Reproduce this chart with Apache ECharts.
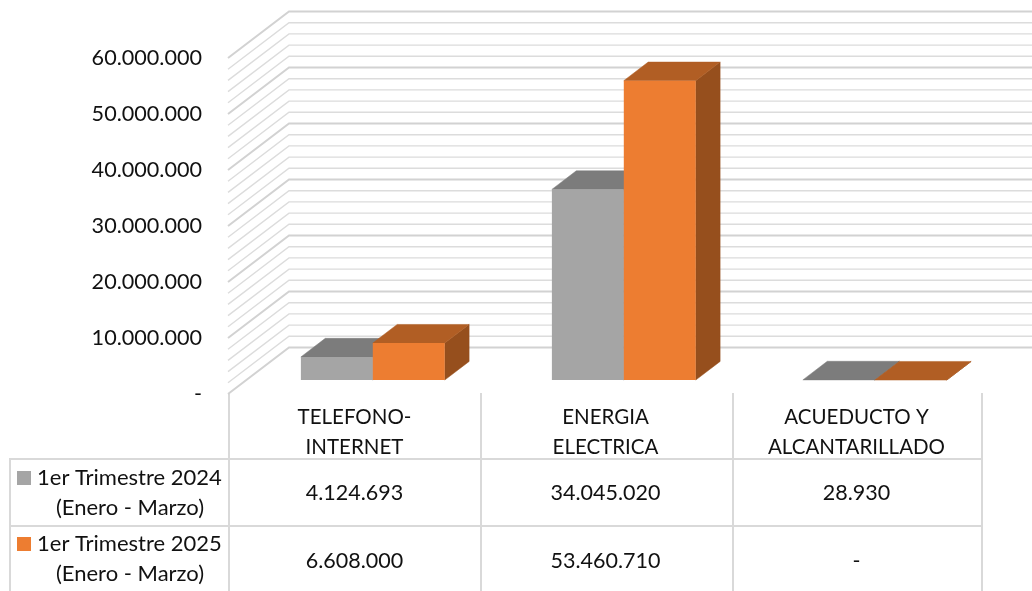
<!DOCTYPE html>
<html>
<head>
<meta charset="utf-8">
<style>
  html, body { margin: 0; padding: 0; background: #fff; }
  #chart { width: 1032px; height: 591px; }
</style>
<script src="https://cdn.jsdelivr.net/npm/echarts@6/dist/echarts.min.js"></script>
</head>
<body>
<div id="chart"></div>
<script>
const categories = ['TELEFONO-\nINTERNET', 'ENERGIA\nELECTRICA', 'ACUEDUCTO Y\nALCANTARILLADO']
const seriesNames = ['1er Trimestre 2024', '1er Trimestre 2025']
const seriesNote = '(Enero - Marzo)'
const values2024 = [4124693, 34045020, 28930]
const values2025 = [6608000, 53460710, 0]
const gridValues = [
  0, 2e6, 4e6, 6e6, 8e6, 10e6, 12e6, 14e6, 16e6, 18e6, 20e6, 22e6, 24e6, 26e6, 28e6, 30e6,
  32e6, 34e6, 36e6, 38e6, 40e6, 42e6, 44e6, 46e6, 48e6, 50e6, 52e6, 54e6, 56e6, 58e6, 60e6
]

const FONT = 'Lato'
const TEXT = '#111'
const LINE = '#d9d9d9'
// 3d look: how far the back wall sits from the front plane
const DEPTH_X = 61
const DEPTH_Y = 46.5
const BAR_OFFSET = 0.3
const BAR_DEPTH = 0.4
const GRID = { left: 229, top: 58, width: 753, height: 336 }

const fmt = v => v === 0 ? '-' : String(v).replace(/\B(?=(\d{3})+$)/g, '.')

function poly(points, fill, edge) {
  return { type: 'polygon', shape: { points }, style: { fill, stroke: edge ? fill : null, lineWidth: 0.5 } }
}

function barSeries(name, values, colors, index) {
  return {
    type: 'custom',
    name,
    z: 3 + index,
    data: values.map((v, i) => [i, v]),
    renderItem(params, api) {
      const [cx, ty] = api.coord([api.value(0), api.value(1)])
      const by = api.coord([api.value(0), 0])[1]
      const w = api.size([1, 0])[0] * 0.2865
      const ox = DEPTH_X * BAR_OFFSET
      const oy = -DEPTH_Y * BAR_OFFSET
      const x0 = cx + ox + (index === 0 ? -w : 0)
      const x1 = x0 + w
      const y0 = ty + oy
      const y1 = by + oy
      const dx = DEPTH_X * BAR_DEPTH
      const dy = -DEPTH_Y * BAR_DEPTH
      return {
        type: 'group',
        children: [
          poly([[x1, y0], [x1 + dx, y0 + dy], [x1 + dx, y1 + dy], [x1, y1]], colors.side, true),
          poly([[x0, y0], [x0 + dx, y0 + dy], [x1 + dx, y0 + dy], [x1, y0]], colors.top, true),
          poly([[x0, y0], [x1, y0], [x1, y1], [x0, y1]], colors.face, false)
        ]
      }
    }
  }
}

function rowSeries(values, y) {
  return {
    type: 'custom',
    silent: true,
    z: 6,
    data: values.map((v, i) => [i, v]),
    renderItem(params, api) {
      return {
        type: 'text',
        x: api.coord([api.value(0), 0])[0],
        y,
        style: {
          text: fmt(api.value(1)),
          font: `21.5px ${FONT}`,
          fill: TEXT,
          align: 'center',
          verticalAlign: 'middle'
        }
      }
    }
  }
}

const wallSeries = {
  type: 'custom',
  silent: true,
  z: 1,
  data: gridValues.map(v => [0, v]),
  renderItem(params, api) {
    const v = api.value(1)
    const y = api.coord([0, v])[1]
    const x = params.coordSys.x - 1
    const major = v % 10e6 === 0
    return {
      type: 'polyline',
      shape: { points: [[x, y], [x + DEPTH_X, y - DEPTH_Y], [1040, y - DEPTH_Y]] },
      style: { fill: null, stroke: major ? '#d2d2d2' : '#dcdcdc', lineWidth: major ? 2 : 1.4 }
    }
  }
}

function tableLine(x1, y1, x2, y2) {
  return {
    type: 'line',
    shape: { x1, y1, x2, y2 },
    style: { stroke: LINE, lineWidth: 2 },
    silent: true
  }
}

function headerCell(name, color, y) {
  return [
    { type: 'rect', shape: { x: 17, y: y - 6, width: 14, height: 14 }, style: { fill: color } },
    { type: 'text', x: 37, y: y + 1, style: { text: name, font: `22px ${FONT}`, fill: TEXT, verticalAlign: 'middle' } },
    { type: 'text', x: 130, y: y + 31, style: { text: seriesNote, font: `22px ${FONT}`, fill: TEXT, align: 'center', verticalAlign: 'middle' } }
  ]
}

const chartDom = document.getElementById('chart')
const myChart = echarts.init(chartDom)

const option = {
  backgroundColor: '#fff',
  animation: false,
  textStyle: { fontFamily: FONT },
  grid: GRID,
  xAxis: {
    type: 'category',
    data: categories,
    axisLine: { show: false },
    axisTick: { show: false },
    splitLine: { show: false },
    axisLabel: {
      margin: 8,
      fontFamily: FONT,
      fontSize: 20.5,
      lineHeight: 30,
      color: TEXT,
      interval: 0
    }
  },
  yAxis: {
    type: 'value',
    min: 0,
    max: 60000000,
    interval: 10000000,
    axisLine: { show: false },
    axisTick: { show: false },
    splitLine: { show: false },
    axisLabel: {
      margin: 27,
      fontFamily: FONT,
      fontSize: 21.6,
      color: TEXT,
      padding: [4, 0, 0, 0],
      formatter: fmt
    }
  },
  graphic: [
    tableLine(229, 393, 229, 591),
    tableLine(481, 393, 481, 591),
    tableLine(733, 393, 733, 591),
    tableLine(982, 393, 982, 591),
    tableLine(10, 459, 10, 591),
    tableLine(9, 459, 983, 459),
    tableLine(9, 526, 983, 526),
    ...headerCell(seriesNames[0], '#a5a5a5', 477),
    ...headerCell(seriesNames[1], '#ed7d31', 543)
  ],
  series: [
    wallSeries,
    barSeries(seriesNames[0], values2024, { face: '#a5a5a5', top: '#7c7c7c', side: '#636363' }, 0),
    barSeries(seriesNames[1], values2025, { face: '#ed7d31', top: '#b15e24', side: '#964f1d' }, 1),
    rowSeries(values2024, 493),
    rowSeries(values2025, 561)
  ]
}

myChart.setOption(option)
window.onresize = function() {
  myChart.resize()
}
</script>
</body>
</html>
